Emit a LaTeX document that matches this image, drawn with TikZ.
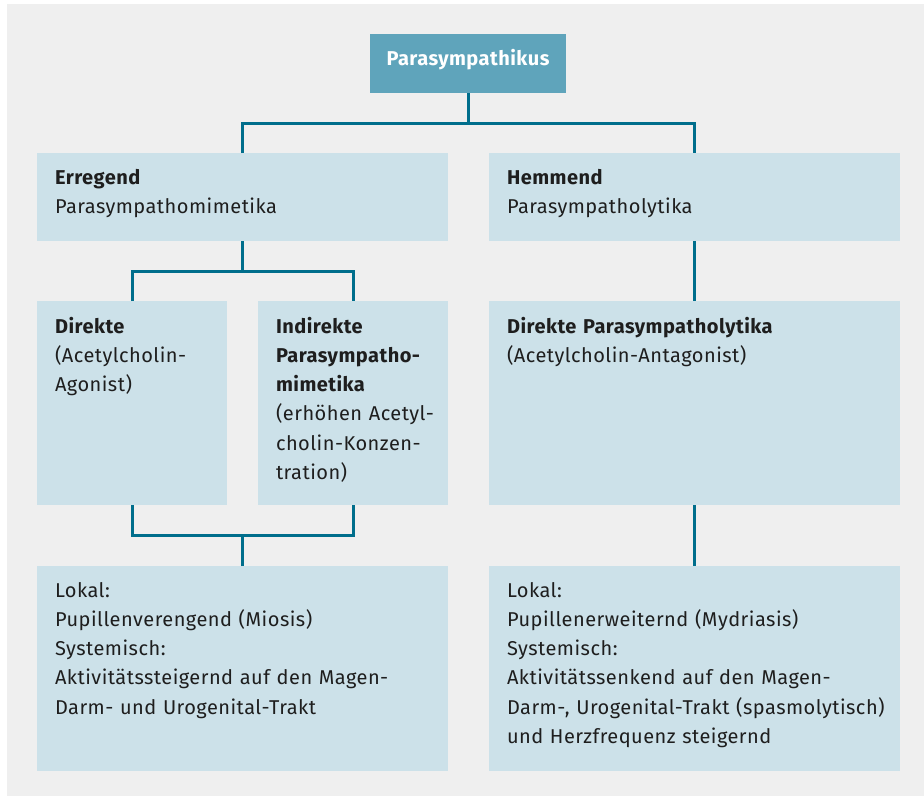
\documentclass[tikz,border=0pt]{standalone}
\usepackage{fontspec}
\setmainfont[LetterSpace=2.4]{Fira Sans}
\definecolor{bggrey}{HTML}{EFEFEF}
\definecolor{boxblue}{HTML}{CCE1E9}
\definecolor{topblue}{HTML}{5FA4BB}
\definecolor{linkteal}{HTML}{006E8C}
\definecolor{txt}{HTML}{1E1E1E}
\tikzset{
  x=1pt, y=-1pt,
  box/.style={fill=boxblue, draw=none, anchor=north west, inner sep=0pt, outer sep=0pt},
  topbox/.style={fill=topblue, draw=none, anchor=north west, inner sep=0pt, outer sep=0pt},
  label/.style={anchor=north west, inner sep=0pt, outer sep=0pt, text width=420pt, align=left, text=txt,
    font=\fontsize{20}{29.3}\selectfont},
  link/.style={draw=linkteal, line width=3pt}
}
\newcommand{\fl}{\rule{0pt}{20pt}}
\begin{document}
\begin{tikzpicture}
\useasboundingbox (0,0) rectangle (924,796);
\fill[white] (0,0) rectangle (924,796);
\fill[bggrey] (7,4) rectangle (924,796);
% boxes
\node[topbox, minimum width=196pt, minimum height=59pt] (top) at (370,34) {};
\node[box, minimum width=411pt, minimum height=88pt] (erregend) at (37,153) {};
\node[box, minimum width=411pt, minimum height=88pt] (hemmend) at (489,153) {};
\node[box, minimum width=190pt, minimum height=204pt] (direkte) at (37,301) {};
\node[box, minimum width=190pt, minimum height=204pt] (indirekte) at (258,301) {};
\node[box, minimum width=411pt, minimum height=204pt] (dirpl) at (489,301) {};
\node[box, minimum width=411pt, minimum height=205pt] (lokall) at (37,566) {};
\node[box, minimum width=411pt, minimum height=205pt] (lokalr) at (489,566) {};
% texts
\node[inner sep=0pt, text=white, font=\fontsize{20}{23}\selectfont\bfseries, anchor=base] (toptext) at (468,65) {Parasympathikus};
\node[label] (terr) at (55,164) {\fl\textbf{Erregend}\\Parasympathomimetika};
\node[label] (themm) at (507,164) {\fl\textbf{Hemmend}\\Parasympatholytika};
\node[label] (tdir) at (55,313) {\fl\textbf{Direkte}\\(Acetylcholin-\\Agonist)};
\node[label] (tind) at (276,313) {\fl\textbf{Indirekte}\\\textbf{Parasympatho-}\\\textbf{mimetika}\\(erhöhen Acetyl-\\cholin-Konzen-\\tration)};
\node[label] (tdpl) at (507,313) {\fl\textbf{Direkte Parasympatholytika}\\(Acetylcholin-Antagonist)};
\node[label] (tlokl) at (55,577) {\fl Lokal:\\Pupillenverengend (Miosis)\\Systemisch:\\Aktivitätssteigernd auf den Magen-\\Darm- und Urogenital-Trakt};
\node[label] (tlokr) at (507,577) {\fl Lokal:\\Pupillenerweiternd (Mydriasis)\\Systemisch:\\Aktivitätssenkend auf den Magen-\\Darm-, Urogenital-Trakt (spasmolytisch)\\und Herzfrequenz steigernd};
% connectors
\draw[link] (top.south) -- ++(0,30);
\draw[link] (erregend.north) -- ++(0,-30) -| (hemmend.north);
\draw[link] (erregend.south) -- ++(0,30);
\draw[link] (direkte.north) -- ++(0,-30) -| (indirekte.north);
\draw[link] (direkte.south) -- ++(0,30.5) -| (indirekte.south);
\draw[link] (lokall.north) -- ++(0,-30.5);
\draw[link] (hemmend.south) -- (dirpl.north);
\draw[link] (dirpl.south) -- (lokalr.north);
\end{tikzpicture}
\end{document}
